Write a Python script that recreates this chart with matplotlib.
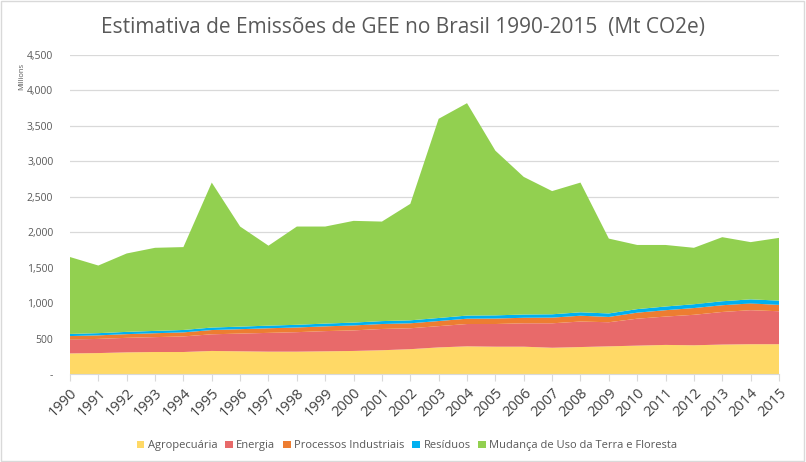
import matplotlib
matplotlib.use('Agg')
import matplotlib.pyplot as plt
from matplotlib.ticker import FuncFormatter

plt.rcParams['font.family'] = ['Open Sans', 'DejaVu Sans']

# Emissions by sector, Mt CO2e
years = list(range(1990, 2016))
agro = [290, 295, 305, 310, 310, 325, 320, 315, 315, 320, 325, 335, 350,
        375, 390, 385, 385, 370, 380, 390, 400, 410, 405, 415, 420, 420]
energia = [195, 200, 205, 210, 220, 235, 250, 265, 275, 285, 290, 300, 295,
           300, 315, 320, 330, 345, 360, 340, 380, 400, 430, 460, 480, 465]
industria = [50, 50, 52, 55, 57, 60, 62, 65, 66, 67, 70, 70, 70,
             72, 75, 77, 78, 80, 82, 75, 85, 90, 95, 95, 95, 90]
residuos = [30, 31, 32, 33, 34, 35, 36, 37, 38, 39, 40, 41, 42,
            43, 44, 45, 46, 47, 48, 49, 50, 52, 54, 56, 58, 60]
uso_terra = [1085, 954, 1106, 1172, 1169, 2045, 1412, 1128, 1386, 1369, 1435,
             1404, 1643, 2810, 2996, 2323, 1941, 1738, 1830, 1056, 905, 868,
             796, 904, 807, 885]

labels = ['Agropecuária', 'Energia', 'Processos Industriais', 'Resíduos',
          'Mudança de Uso da Terra e Floresta']
colors = ['#FFD966', '#E86A6A', '#ED7D31', '#00B0F0', '#92D050']

fig = plt.figure(figsize=(8.06, 4.62), dpi=100)
ax = fig.add_axes([0.0868, 0.1905, 0.8797, 0.6905])

ax.stackplot(years, agro, energia, industria, residuos, uso_terra,
             colors=colors, labels=labels, linewidth=0)

ax.set_xlim(1990, 2015)
ax.set_ylim(0, 4500)
ax.set_yticks(range(0, 4501, 500))
ax.yaxis.set_major_formatter(FuncFormatter(lambda v, p: '-' if v == 0 else f'{int(v):,}'))
ax.set_xticks(years)
ax.set_xticklabels([str(y) for y in years], rotation=45, ha='right',
                   rotation_mode='anchor', fontsize=10.5, color='#404040')

ax.grid(axis='y', color='#d9d9d9', linewidth=0.9)
ax.set_axisbelow(True)
for s in ['top', 'right', 'left']:
    ax.spines[s].set_visible(False)
ax.spines['bottom'].set_color('#d9d9d9')
ax.tick_params(axis='y', length=0, labelsize=7.5, labelcolor='#595959', pad=12)
ax.tick_params(axis='x', length=5, color='#d9d9d9', pad=3)

fig.text(0.027, 0.835, 'Millions', rotation=90, fontsize=5.5, color='#595959',
         ha='center', va='center')
fig.text(0.5, 0.94, 'Estimativa de Emissões de GEE no Brasil 1990-2015  (Mt CO2e)',
         ha='center', va='center', fontsize=15, color='#595959')

handles, lbls = ax.get_legend_handles_labels()
fig.legend(handles, lbls, loc='center', bbox_to_anchor=(0.505, 0.035), ncol=5,
           frameon=False, fontsize=8, handlelength=0.7, handleheight=0.7,
           handletextpad=0.3, columnspacing=0.7, labelcolor='#595959')

fig.patches.append(plt.Rectangle((0.001, 0.002), 0.997, 0.996, transform=fig.transFigure,
                                 fill=False, edgecolor='#d9d9d9', linewidth=1))

fig.savefig('out.png', dpi=100)
